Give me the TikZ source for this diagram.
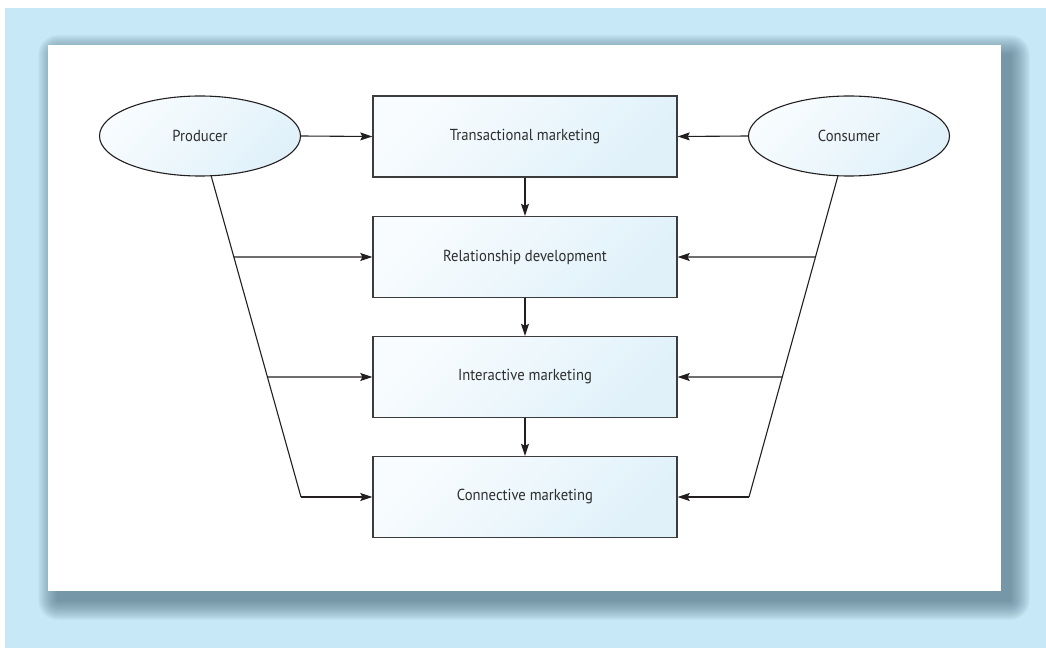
\documentclass[tikz,border=0pt]{standalone}
\usepackage{fontspec}
\newfontfamily\diagfont{PT Sans}[FakeStretch=0.92]
\usetikzlibrary{arrows.meta}
\definecolor{bgblue}{HTML}{C6E8F7}
\definecolor{shadowc}{HTML}{4A6B7C}
\definecolor{boxlight}{HTML}{F8FCFE}
\definecolor{boxblue}{HTML}{E0F1FA}
\definecolor{boxedge}{HTML}{3C3C3C}
\definecolor{ink}{HTML}{231F20}
\definecolor{txt}{HTML}{2E2E2E}
\tikzset{
  stagebox/.style={draw=boxedge, line width=1.4bp, shading=axis, top color=boxlight,
    bottom color=boxblue, shading angle=45, minimum width=304bp, minimum height=81bp,
    inner sep=0pt, text=txt, font=\diagfont\fontsize{16}{19}\selectfont},
  actor/.style={ellipse, draw=ink, line width=1.1bp, shading=axis, top color=boxlight,
    bottom color=boxblue, shading angle=45, minimum width=201bp, minimum height=80bp,
    inner sep=0pt, text=txt, font=\diagfont\fontsize{16}{19}\selectfont},
  conn/.style={draw=ink, line width=1.1bp},
  arr/.style={conn, -{Stealth[length=12bp, width=8bp, inset=2bp]}}
}
\usetikzlibrary{shapes.geometric}
\begin{document}
\begin{tikzpicture}[x=1bp, y=-1bp]
\useasboundingbox (0,0) rectangle (1046,648);
\fill[white] (0,0) rectangle (1046,648);
\fill[bgblue] (5,8) rectangle (1046,648);
% shadow
\foreach \r in {1,...,20} {
  \fill[shadowc, opacity=0.045, rounded corners=\r bp] (58-\r,55-\r) rectangle (1010+\r,600+\r);
}
\fill[white] (48,45) rectangle (1001,591);

% nodes
\node[stagebox] (b1) at (525,136.5) {Transactional marketing};
\node[stagebox] (b2) at (525,257) {Relationship development};
\node[stagebox] (b3) at (525,377) {Interactive marketing};
\node[stagebox] (b4) at (525,497) {Connective marketing};
\node[actor] (prod) at (200,136) {Producer};
\node[actor] (cons) at (849,136) {Consumer};

\coordinate (pL4) at (301,497);
\coordinate (cR4) at (749,497);
\coordinate (pL2) at (intersection of prod.center--pL4 and b2.west--b2.east);
\coordinate (pL3) at (intersection of prod.center--pL4 and b3.west--b3.east);
\coordinate (cR2) at (intersection of cons.center--cR4 and b2.west--b2.east);
\coordinate (cR3) at (intersection of cons.center--cR4 and b3.west--b3.east);

% connectors
\draw[conn] (prod) -- (pL4);
\draw[conn] (cons) -- (cR4);
\draw[arr] (prod.east) -- (b1.west);
\draw[arr] (cons.west) -- (b1.east);
\draw[arr] (pL2) -- (b2.west);
\draw[arr] (pL3) -- (b3.west);
\draw[arr] (pL4) -- (b4.west);
\draw[arr] (cR2) -- (b2.east);
\draw[arr] (cR3) -- (b3.east);
\draw[arr] (cR4) -- (b4.east);
\draw[arr] (b1) -- (b2);
\draw[arr] (b2) -- (b3);
\draw[arr] (b3) -- (b4);
\end{tikzpicture}
\end{document}
